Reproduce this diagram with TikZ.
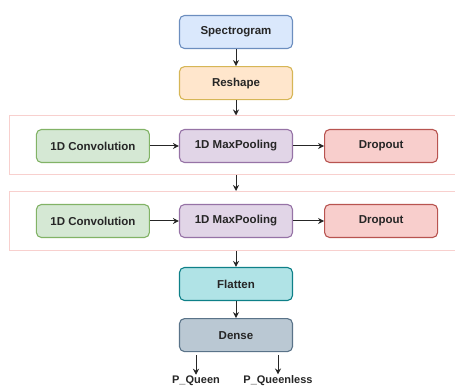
\documentclass[tikz,border=0pt]{standalone}
\usepackage{fontspec}
\setmainfont{Liberation Sans}
\usepackage{tikz}
\usetikzlibrary{arrows.meta}
\usetikzlibrary{positioning}
\definecolor{specfill}{HTML}{DAE8FC}
\definecolor{specline}{HTML}{6C8EBF}
\definecolor{reshfill}{HTML}{FFE6CC}
\definecolor{reshline}{HTML}{D6B656}
\definecolor{convfill}{HTML}{D5E8D4}
\definecolor{convline}{HTML}{82B366}
\definecolor{poolfill}{HTML}{E1D5E7}
\definecolor{poolline}{HTML}{9673A6}
\definecolor{dropfill}{HTML}{F8CECC}
\definecolor{dropline}{HTML}{B85450}
\definecolor{flatfill}{HTML}{B0E3E6}
\definecolor{flatline}{HTML}{0E8088}
\definecolor{densfill}{HTML}{BAC8D3}
\definecolor{densline}{HTML}{5A7389}
\definecolor{grpline}{HTML}{F8D0CE}

\begin{document}
\begin{tikzpicture}[
			x=1pt,y=-1pt,
			layer/.style={draw,rounded corners=5pt,line width=1.1pt,minimum width=113pt,minimum height=33pt,
				font=\fontsize{11.5}{13}\selectfont\bfseries,text=black!85},
			grp/.style={draw=grpline,line width=1pt,minimum width=458pt,minimum height=59pt},
			arr/.style={-{Stealth[length=6pt,width=6pt]},line width=1pt,black!85},
			outlbl/.style={font=\fontsize{11}{12}\selectfont\bfseries,text=black!85,inner sep=0.5pt,anchor=south}
		]
		\clip (0,0) rectangle (455,387);
		\useasboundingbox (0,0) rectangle (455,387);

		% Input part
		\node[layer,fill=specfill,draw=specline] (spec) at (236,32) {Spectrogram};
		\node[layer,fill=reshfill,draw=reshline,below=17pt of spec] (resh) {Reshape};

		% Two conv blocks
		\node[grp] (grp1) at (238.5,145.5) {};
		\node[grp] (grp2) at (238.5,221) {};
		\foreach \g/\y in {1/146,2/221} {
			\node[layer,fill=poolfill,draw=poolline] (pool\g) at (236,\y) {1D MaxPooling};
			\node[layer,fill=convfill,draw=convline,left=29pt of pool\g] (conv\g) {1D Convolution};
			\node[layer,fill=dropfill,draw=dropline,right=31pt of pool\g] (drop\g) {Dropout};
			\draw[arr] (conv\g) -- (pool\g);
			\draw[arr] (pool\g) -- (drop\g);
		}

		% Output part
		\node[layer,fill=flatfill,draw=flatline] (flat) at (236,284) {Flatten};
		\node[layer,fill=densfill,draw=densline,below=17pt of flat] (dens) {Dense};
		\node[outlbl] (pq) at (196,386) {P\_Queen};
		\node[outlbl] (pql) at (278,386) {P\_Queenless};

		\draw[arr] (spec) -- (resh);
		\draw[arr] (resh) -- (resh |- grp1.north);
		\draw[arr] (grp1.south -| pool1) -- (grp2.north -| pool2);
		\draw[arr] (grp2.south -| flat) -- (flat);
		\draw[arr] (flat) -- (dens);
		\draw[arr] ([yshift=-3pt]dens.south -| pq) -- (pq);
		\draw[arr] ([yshift=-3pt]dens.south -| pql) -- (pql);

	\end{tikzpicture}
\end{document}
